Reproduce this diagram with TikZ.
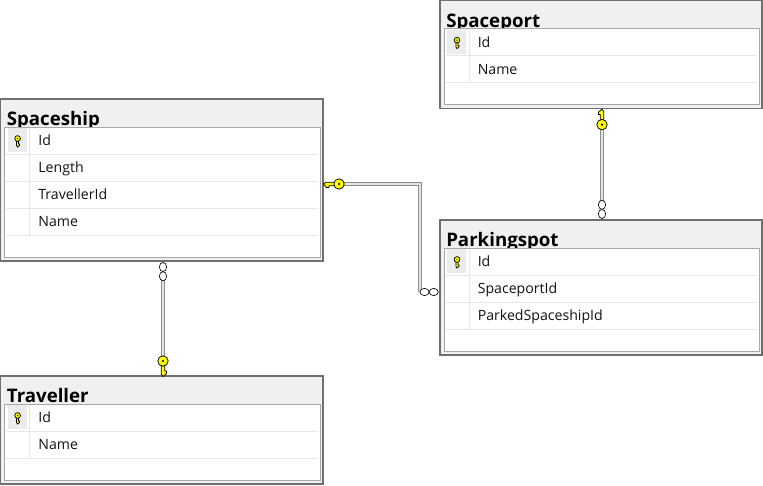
\documentclass[tikz,border=0pt]{standalone}
\usepackage{fontspec}
\setmainfont{Open Sans}
\usetikzlibrary{fit,calc}
\definecolor{titlebg}{HTML}{F0F0F0}
\definecolor{frame}{HTML}{707070}
\definecolor{innerframe}{HTML}{A8A8A8}
\definecolor{rowline}{HTML}{E6E6E6}
\definecolor{keycellbg}{HTML}{ECECEC}
\definecolor{keyyellow}{HTML}{FFFF00}
\definecolor{linkgray}{HTML}{8C8C8C}
\definecolor{linkfill}{HTML}{E4E4E4}
\definecolor{txt}{HTML}{121212}
\tikzset{
  tableframe/.style={draw=frame, fill=titlebg, line width=1.1pt, inner sep=0pt, outer sep=0pt},
  titletext/.style={anchor=base west, inner sep=0pt, font=\bfseries\fontsize{14}{16}\selectfont, text=black},
  rowtext/.style={anchor=base west, inner sep=0pt, font=\fontsize{10.6}{12}\selectfont, text=txt},
  innerbox/.style={fill=white, draw=innerframe, line width=0.6pt},
  keycell/.style={fill=keycellbg},
  rowsep/.style={draw=rowline, line width=0.6pt},
  link/.style={draw=linkgray, double=linkfill, double distance=1.5pt, line width=0.75pt},
  keyshape/.pic={
    \path[fill=keyyellow, draw=black, line width=0.55pt]
      (-3.5,-1.8) -- (-13,-1.8) -- (-15.5,0) -- (-14,1.8) -- (-12.5,3.6) -- (-10,3.6) -- (-10,1.8) -- (-3.5,1.8) -- cycle;
    \path[fill=keyyellow, draw=black, line width=0.55pt] (0,0) circle[radius=5.2];
    \fill[black] (0,0) circle[radius=1.2];
  },
  manyend/.pic={
    \path[fill=white, draw=black, line width=0.5pt] (0,0) ellipse[x radius=4.6, y radius=3.6];
    \path[fill=white, draw=black, line width=0.5pt] (9.2,0) ellipse[x radius=4.6, y radius=3.6];
  }
}
\newcommand\dbtable[7]{%
  \pgfmathsetmacro\tH{54+27*#5}
  \node[tableframe, fit={(#2,#3)(#2+#4,#3+\tH)}] (#1) {};
  \node[titletext] (#1-title) at (#2+6,#3+26.5) {#6};
  \path[innerbox] (#2+4,#3+28) rectangle (#2+#4-3,#3+\tH-4);
  \path[keycell] (#2+7,#3+29) rectangle (#2+26,#3+53);
  \pic[scale=0.55, rotate=90] at (#2+17,#3+39.5) {keyshape};
  \draw[rowsep] (#2+29,#3+29) -- (#2+29,#3+28+27*#5);
  \foreach \r [count=\i] in {#7} {
    \node[rowtext] (#1-r\i) at (#2+37.5,#3+28+27*\i-8.5) {\r};
    \draw[rowsep] (#2+5,#3+28+27*\i) -- (#2+#4-5,#3+28+27*\i);
  }
}
\begin{document}
\begin{tikzpicture}[x=0.75pt, y=-0.75pt]
\useasboundingbox (0,0) rectangle (763,485);
\fill[white] (0,0) rectangle (763,485);

\dbtable{spaceship}{0.6}{99}{322.4}{4}{Spaceship}{Id,Length,TravellerId,Name}
\dbtable{spaceport}{440}{0.6}{322}{2}{Spaceport}{Id,Name}
\dbtable{parkingspot}{440}{220}{322}{3}{Parkingspot}{Id,SpaceportId,ParkedSpaceshipId}
\dbtable{traveller}{0.6}{376}{322.4}{2}{Traveller}{Id,Name}

% Spaceship -- Traveller
\coordinate (l1a) at ($(spaceship.south west)+(162.4,19)$);
\coordinate (l1b) at ($(traveller.north west)+(162.4,-15)$);
\draw[link] (l1a) -- (l1b);
\pic[rotate=-90] at ($(spaceship.south west)+(162.4,6)$) {manyend};
\pic[rotate=90] at (l1b) {keyshape};

% Spaceship -- Parkingspot
\coordinate (l2a) at ($(spaceship.north east)+(16,85)$);
\coordinate (l2b) at ($(parkingspot.north west)+(-20,72)$);
\draw[link] (l2a) -| (l2b);
\pic at ($(parkingspot.north west)+(-15.5,72)$) {manyend};
\pic at (l2a) {keyshape};

% Spaceport -- Parkingspot
\coordinate (l3a) at ($(spaceport.south west)+(162,16)$);
\coordinate (l3b) at ($(parkingspot.north west)+(162,-16)$);
\draw[link] (l3a) -- (l3b);
\pic[rotate=90] at ($(parkingspot.north west)+(162,-6)$) {manyend};
\pic[rotate=-90] at (l3a) {keyshape};
\end{tikzpicture}
\end{document}
